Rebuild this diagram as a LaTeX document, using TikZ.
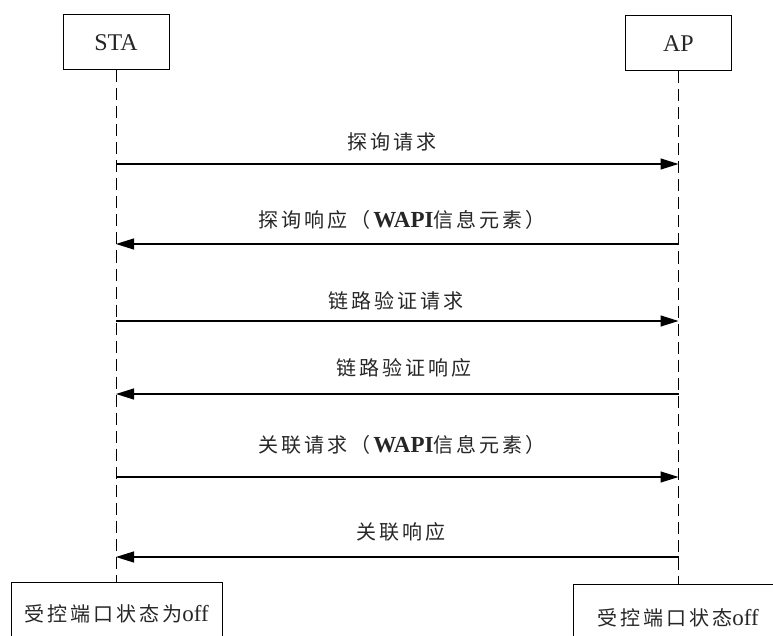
\documentclass[tikz,border=0pt]{standalone}
\usepackage{fontspec}
\setmainfont{Liberation Serif}
\newfontfamily\cjk[Scale=0.87,LetterSpace=15]{Noto Sans CJK SC}
\usetikzlibrary{arrows.meta}
\newcommand{\zh}[1]{{\cjk #1}}
\begin{document}
\begin{tikzpicture}[x=1pt,y=-1pt,
  every node/.style={font=\fontsize{23}{28}\selectfont, text=black!85},
  actor/.style={draw, line width=1pt, minimum width=106pt, minimum height=55pt, inner sep=0pt, font=\fontsize{24}{28}\selectfont},
  state/.style={draw, line width=1pt, minimum width=211pt, inner sep=0pt, anchor=north},
  life/.style={line width=1pt, dash pattern=on 12pt off 6pt},
  msg/.style={line width=1.2pt, -{Triangle[length=18pt,width=11pt]}},
  lbl/.style={inner sep=0pt}]
\useasboundingbox (0,0) rectangle (773,636);
\clip (0,0) rectangle (773,636);
% actors
\node[actor] (sta) at (116,42.5) {STA};
\node[actor] (ap) at (678.5,43.5) {AP};
% bottom state boxes
\node[state, minimum height=62pt] (stas) at (116.5,582) {\zh{受控端口状态为}off};
\node[state, minimum height=66pt, minimum width=210pt] (aps) at (678,584) {\zh{受控端口状态}off};
% lifelines
\draw[life] (sta.south) -- (stas.north -| sta.south);
\draw[life] (ap.south) -- (aps.north -| ap.south);
% message anchor points
\foreach \i/\y in {1/164,2/244,3/321,4/394,5/477,6/557}{
  \coordinate (s\i) at (116,\y);
  \coordinate (a\i) at (678.5,\y);
}
\draw[msg] (s1) -- (a1);
\draw[msg] (a2) -- (s2);
\draw[msg] (s3) -- (a3);
\draw[msg] (a4) -- (s4);
\draw[msg] (s5) -- (a5);
\draw[msg] (a6) -- (s6);
% labels
\node[lbl] (l1) at (392,142) {\zh{探询请求}};
\node[lbl] (l2) at (402,220) {\zh{探询响应（}\textbf{WAPI}\zh{信息元素）}};
\node[lbl] (l3) at (396,301) {\zh{链路验证请求}};
\node[lbl] (l4) at (404,368) {\zh{链路验证响应}};
\node[lbl] (l5) at (402,445) {\zh{关联请求（}\textbf{WAPI}\zh{信息元素）}};
\node[lbl] (l6) at (401,532) {\zh{关联响应}};
\end{tikzpicture}
\end{document}
